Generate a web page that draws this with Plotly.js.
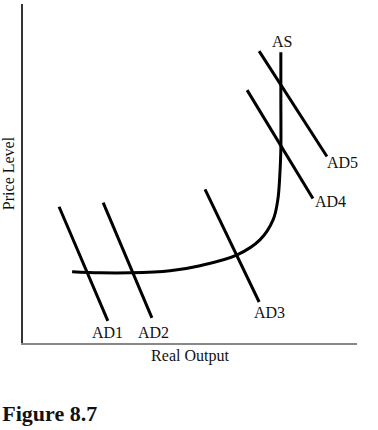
<!DOCTYPE html>
<html>
<head>
<meta charset="utf-8">
<script src="https://cdn.plot.ly/plotly-3.0.1.min.js"></script>
<style>html,body{margin:0;padding:0;background:#fff;}#chart{width:378px;height:430px;}</style>
</head>
<body>
<div id="chart"></div>
<script>
// Aggregate supply curve (real output, price level), units 0-100
var asOutput = [14.7, 23.1, 32.0, 44.0, 53.0, 64.1, 71.0, 74.9, 76.3, 76.9, 77.2, 77.2, 77.2];
var asPrice  = [21.0, 20.7, 20.7, 21.3, 22.8, 26.0, 30.5, 36.4, 42.3, 49.7, 57.1, 71.9, 85.8];

// Aggregate demand curves: [start, end]
var adNames  = ["AD1", "AD2", "AD3", "AD4", "AD5"];
var adOutput = [[10.8, 25.4], [24.0, 38.6], [54.5, 70.7], [67.1, 86.8], [70.7, 91.0]];
var adPrice  = [[40.2, 6.5], [41.4, 7.4], [45.3, 12.1], [74.6, 42.6], [86.1, 55.0]];

// Label positions
var labelText   = ["AD1", "AD2", "AD3", "AD4", "AD5", "AS"];
var labelOutput = [25.4, 39.2, 73.7, 92.2, 95.8, 77.5];
var labelPrice  = [3.0, 3.0, 8.9, 41.7, 53.3, 88.8];

var font = "Liberation Serif, Times New Roman, serif";
var traces = [];
for (var i = 0; i < adNames.length; i++) {
  traces.push({
    x: adOutput[i], y: adPrice[i], name: adNames[i],
    mode: "lines", type: "scatter",
    line: {color: "#000", width: 3}, hoverinfo: "skip"
  });
}
traces.push({
  x: asOutput, y: asPrice, name: "AS",
  mode: "lines", type: "scatter",
  line: {color: "#000", width: 3, shape: "spline", smoothing: 1}, hoverinfo: "skip"
});

var annotations = [];
for (var j = 0; j < labelText.length; j++) {
  annotations.push({
    x: labelOutput[j], y: labelPrice[j], xref: "x", yref: "y",
    text: labelText[j], showarrow: false,
    font: {family: font, size: 16, color: "#111"},
    xanchor: "center", yanchor: "middle"
  });
}

var layout = {
  width: 378, height: 430,
  margin: {l: 23, r: 21, t: 4, b: 87},
  paper_bgcolor: "#fff", plot_bgcolor: "#fff",
  showlegend: false,
  title: {
    text: "<b>Figure 8.7</b>", x: 0.006, xanchor: "left",
    y: 1 - 413 / 430, yanchor: "middle", yref: "container",
    font: {family: font, size: 22, color: "#111"}
  },
  xaxis: {
    range: [0, 100], showgrid: false, zeroline: false,
    showticklabels: false, ticks: "",
    showline: true, linecolor: "#888", linewidth: 2,
    title: {text: "Real Output", standoff: 6, font: {family: font, size: 16, color: "#111"}},
    fixedrange: true
  },
  yaxis: {
    range: [0, 100], showgrid: false, zeroline: false,
    showticklabels: false, ticks: "",
    showline: true, linecolor: "#333", linewidth: 2,
    title: {text: "Price Level", standoff: 4, font: {family: font, size: 16, color: "#111"}},
    fixedrange: true
  },
  annotations: annotations
};

Plotly.newPlot("chart", traces, layout, {displayModeBar: false, staticPlot: true});
</script>
</body>
</html>
